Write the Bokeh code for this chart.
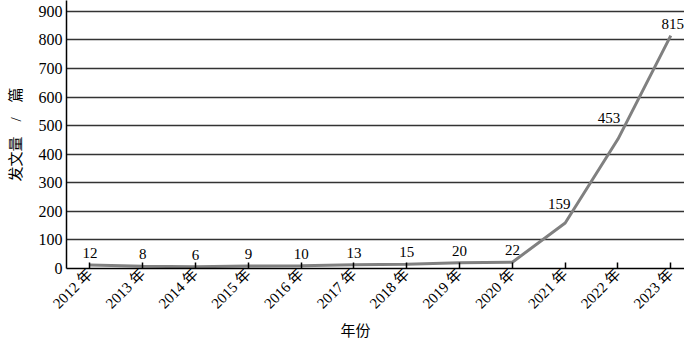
import math
from bokeh.plotting import figure
from bokeh.models import FixedTicker, ColumnDataSource, Range1d, Title
from bokeh.core.properties import value
from bokeh.embed import file_html
from bokeh.resources import INLINE

years = ["2012 年", "2013 年", "2014 年", "2015 年", "2016 年", "2017 年",
         "2018 年", "2019 年", "2020 年", "2021 年", "2022 年", "2023 年"]
counts = [12, 8, 6, 9, 10, 13, 15, 20, 22, 159, 453, 815]
y_ticks = [0, 100, 200, 300, 400, 500, 600, 700, 800, 900]

# label placement (styling only)
label_dx = [0, 0, 0, 0, 0, 0, 0, 0, 0, -6, -9, 2]
label_dy = [-7, -7, -7, -7, -7, -7, -7, -7, -7, -14, -16, -7]

FONT = "'Liberation Serif', 'Times New Roman', 'Noto Sans CJK SC'"

idx = list(range(len(years)))

p = figure(width=684, height=338, output_backend="svg", toolbar_location=None,
           x_range=Range1d(-0.445, 11.26), y_range=Range1d(0, 938),
           min_border_left=66, min_border_right=0, min_border_top=0,
           min_border_bottom=0)
p.outline_line_color = None
p.background_fill_color = "white"

src = ColumnDataSource(dict(x=idx, y=counts, t=[str(c) for c in counts],
                            dx=label_dx, dy=label_dy))
p.line("x", "y", source=src, line_color="#808080", line_width=3)
p.text("x", "y", text="t", source=src, x_offset="dx", y_offset="dy",
       text_align="center", text_baseline="bottom",
       text_font=value(FONT), text_font_size="15px", text_color="black")

# x axis
xa = p.xaxis[0]
xa.ticker = FixedTicker(ticks=idx)
xa.major_label_overrides = {i: y for i, y in zip(idx, years)}
xa.major_label_orientation = math.pi / 4
xa.major_tick_in = 6
xa.major_tick_out = 0
xa.minor_tick_line_color = None
xa.axis_line_color = "black"
xa.axis_line_width = 1.5
xa.major_tick_line_color = "black"
xa.major_tick_line_width = 1.5
xa.major_label_text_font = FONT
xa.major_label_text_font_size = "15px"
xa.major_label_text_color = "black"
xa.major_label_standoff = 3

p.add_layout(Title(text="年份", align="left", offset=274, standoff=0,
                   text_font=FONT, text_font_size="15px",
                   text_font_style="normal", text_color="black"), "below")

# y axis
ya = p.yaxis[0]
ya.ticker = FixedTicker(ticks=y_ticks)
ya.major_tick_in = 0
ya.major_tick_out = 0
ya.minor_tick_line_color = None
ya.axis_line_color = "black"
ya.axis_line_width = 1.5
ya.major_label_text_font = FONT
ya.major_label_text_font_size = "16px"
ya.major_label_text_color = "black"
ya.major_label_standoff = 4
ya.axis_label = "发文量\u3000/\u3000篇"
ya.axis_label_text_font = FONT
ya.axis_label_text_font_size = "15px"
ya.axis_label_text_font_style = "normal"
ya.axis_label_text_color = "black"
ya.axis_label_standoff = 12

p.xgrid.grid_line_color = None
p.ygrid.ticker = FixedTicker(ticks=y_ticks)
p.ygrid.grid_line_color = "#333333"
p.ygrid.grid_line_width = 1.6

open("out.html", "w").write(file_html(p, INLINE))
